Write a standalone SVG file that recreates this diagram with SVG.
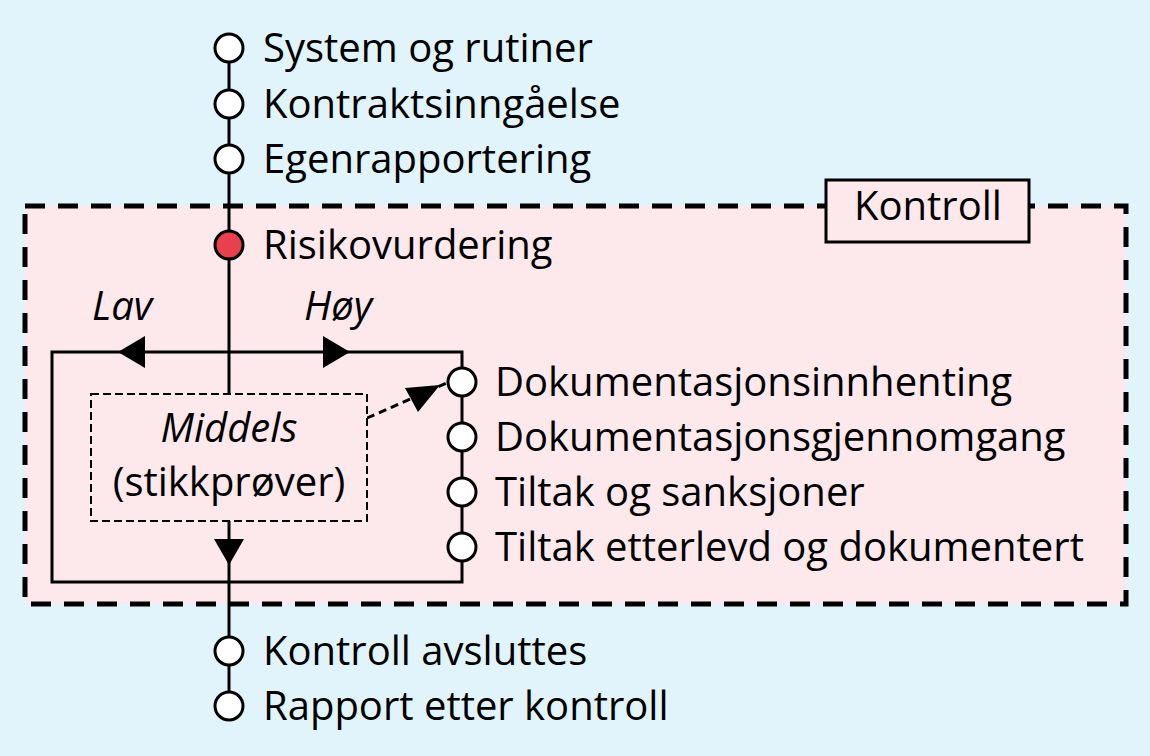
<svg xmlns="http://www.w3.org/2000/svg" width="1150" height="756" viewBox="0 0 1150 756">
<style>
text{font-family:"Open Sans","Noto Sans",sans-serif;font-size:40px;fill:#000}
.it{font-style:italic}
.ln{stroke:#000;stroke-width:3;fill:none}
.st{fill:#fff;stroke:#000;stroke-width:3}
.ah{fill:#000}
</style>
<rect x="0" y="0" width="1150" height="756" fill="#e1f3fb"/>
<g id="kontroll-area">
<rect x="25" y="206" width="1101" height="398" fill="#fde8eb" stroke="#000" stroke-width="5" stroke-dasharray="20,13"/>
<rect x="826" y="180" width="203" height="62" fill="#fde8eb" stroke="#000" stroke-width="3"/>
<text x="928" y="220" text-anchor="middle">Kontroll</text>
</g>
<g id="connectors">
<line class="ln" x1="229" y1="35" x2="229" y2="394"/>
<line class="ln" x1="229" y1="521" x2="229" y2="706"/>
<path class="ln" d="M52,352 H462 V582 H52 Z"/>
<polygon class="ah" points="118,352 145,336 145,368"/>
<polygon class="ah" points="350,352 323,336 323,368"/>
<polygon class="ah" points="229,565 214,539 244,539"/>
<line class="ln" x1="367" y1="418" x2="449" y2="382" stroke-dasharray="8,5"/>
<polygon class="ah" points="440,385 405,388 418,412"/>
<text class="it" x="92" y="320">Lav</text>
<text class="it" x="304" y="320">Høy</text>
</g>
<g id="n-system"><circle class="st" cx="229" cy="48" r="14"/><text x="263" y="62">System og rutiner</text></g>
<g id="n-kontrakt"><circle class="st" cx="229" cy="104" r="14"/><text x="263" y="118">Kontraktsinngåelse</text></g>
<g id="n-egen"><circle class="st" cx="229" cy="159" r="14"/><text x="263" y="173">Egenrapportering</text></g>
<g id="n-risiko"><circle cx="229" cy="245" r="14" fill="#e8404f" stroke="#000" stroke-width="3"/><text x="263" y="259">Risikovurdering</text></g>
<g id="n-middels">
<rect x="91" y="394" width="276" height="127" fill="#fde8eb" stroke="#000" stroke-width="2" stroke-dasharray="8,4"/>
<text class="it" x="229" y="442" text-anchor="middle">Middels</text>
<text x="229" y="496" text-anchor="middle">(stikkprøver)</text>
</g>
<g id="n-dok1"><circle class="st" cx="462" cy="382" r="14"/><text x="495" y="396">Dokumentasjonsinnhenting</text></g>
<g id="n-dok2"><circle class="st" cx="462" cy="437" r="14"/><text x="495" y="451">Dokumentasjonsgjennomgang</text></g>
<g id="n-tiltak1"><circle class="st" cx="462" cy="492" r="14"/><text x="495" y="506">Tiltak og sanksjoner</text></g>
<g id="n-tiltak2"><circle class="st" cx="462" cy="547" r="14"/><text x="495" y="561">Tiltak etterlevd og dokumentert</text></g>
<g id="n-avslutt"><circle class="st" cx="229" cy="651" r="14"/><text x="263" y="665">Kontroll avsluttes</text></g>
<g id="n-rapport"><circle class="st" cx="229" cy="706" r="14"/><text x="263" y="720">Rapport etter kontroll</text></g>
</svg>
